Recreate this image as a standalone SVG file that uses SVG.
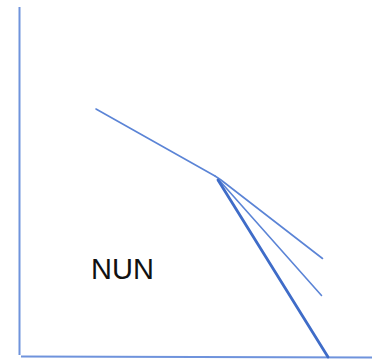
<svg xmlns="http://www.w3.org/2000/svg" width="372" height="362" viewBox="0 0 372 362">
<style>
.axis{stroke:#6f93dc;stroke-width:2;fill:none;stroke-linecap:butt}
.thin{stroke:#5b84d6;stroke-width:1.6;fill:none;stroke-linecap:round}
.thick{stroke:#3f6cc8;stroke-width:2.8;fill:none;stroke-linecap:round}
.lbl{font-family:"Liberation Sans",Arial,sans-serif;font-size:29px;fill:#111}
</style>
<rect width="372" height="362" fill="#fff"/>
<g id="axes">
<line class="axis" x1="19.5" y1="7" x2="19.5" y2="355"/>
<line class="axis" x1="21" y1="356.5" x2="372" y2="357.5"/>
</g>
<g id="connectors">
<line class="thin" x1="96" y1="109" x2="215" y2="176"/>
<polyline class="thin" points="215,176 221,180 322.5,258.5"/>
<line class="thin" x1="219" y1="180" x2="321.5" y2="295.5"/>
<line class="thick" x1="218" y1="180" x2="328" y2="357"/>
</g>
<g id="label">
<text class="lbl" x="91" y="279">NUN</text>
</g>
</svg>
